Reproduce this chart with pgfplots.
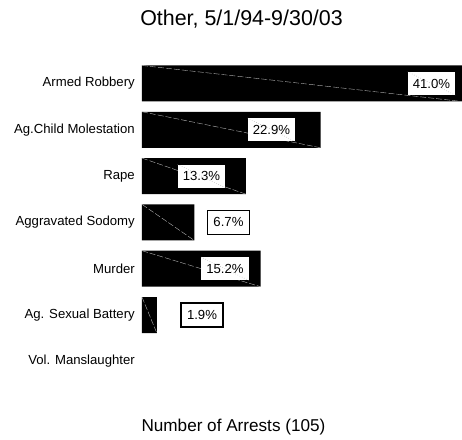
\documentclass[border=0pt]{standalone}
\usepackage{pgfplots}
\pgfplotsset{compat=1.18}
\usepackage{fontspec}
\setmainfont{Liberation Sans}
\begin{document}
\begin{tikzpicture}
\begin{axis}[
  scale only axis, width=320bp, height=439bp,
  xmin=0, xmax=41, ymin=-1.678, ymax=7.803,
  clip=false,
  axis line style={draw=none}, major tick length=0pt,
  xtick=\empty, ytick={0,1,2,3,4,5,6},
  yticklabels={Vol. Manslaughter, Ag. Sexual Battery, Murder, Aggravated Sodomy, Rape, Ag.Child Molestation, Armed Robbery},
  yticklabel style={font=\fontsize{13.2}{15}\selectfont, inner sep=0pt, xshift=-7bp},
]
\addplot[xbar, fill=black, draw=none, bar width=36bp] coordinates {
 (1.9,1) (15.2,2) (6.7,3) (13.3,4) (22.9,5) (41.0,6)};
% faint diagonals across bars
\draw[gray!60, dash pattern=on 6bp off 2bp, line width=0.4bp] (axis cs:0,6.389) -- (axis cs:41.0,5.611);
\draw[gray!60, dash pattern=on 6bp off 2bp, line width=0.4bp] (axis cs:0,5.389) -- (axis cs:22.9,4.611);
\draw[gray!60, dash pattern=on 6bp off 2bp, line width=0.4bp] (axis cs:0,4.389) -- (axis cs:13.3,3.611);
\draw[gray!60, dash pattern=on 6bp off 2bp, line width=0.4bp] (axis cs:0,3.389) -- (axis cs:6.7,2.611);
\draw[gray!60, dash pattern=on 6bp off 2bp, line width=0.4bp] (axis cs:0,2.389) -- (axis cs:15.2,1.611);
\draw[gray!60, dash pattern=on 6bp off 2bp, line width=0.4bp] (axis cs:0,1.389) -- (axis cs:1.9,0.611);
% value labels
\tikzset{inlab/.style={fill=white, inner xsep=5bp, inner ysep=0pt, minimum height=23bp, font=\fontsize{13.2}{15}\selectfont},
         outlab/.style={draw=black, line width=1.5bp, fill=white, inner xsep=6bp, inner ysep=0pt, minimum height=24bp, font=\fontsize{13.2}{15}\selectfont}}
\node[inlab] (p1) at (axis cs:37.09,6) {41.0\%};
\draw[gray, dotted, line width=0.4bp] (p1.north west) -- (p1.south east);
\node[inlab] (p2) at (axis cs:16.59,5) {22.9\%};
\draw[gray, dotted, line width=0.4bp] (p2.north west) -- (p2.south east);
\node[inlab] (p3) at (axis cs:7.62,4) {13.3\%};
\draw[gray, dotted, line width=0.4bp] (p3.north west) -- (p3.south east);
\node[outlab] at (axis cs:11.08,3) {6.7\%};
\node[inlab] (p5) at (axis cs:10.63,2) {15.2\%};
\draw[gray, dotted, line width=0.4bp] (p5.north west) -- (p5.south east);
\node[outlab] at (axis cs:7.69,1) {1.9\%};
% title and axis label
\node[font=\fontsize{21.5}{25}\selectfont] at (axis cs:12.75,7.40) {Other, 5/1/94-9/30/03};
\node[font=\fontsize{17.2}{20}\selectfont] at (axis cs:11.72,-1.419) {Number of Arrests (105)};
\coordinate (bbl) at (axis cs:-18.19,-1.678);
\coordinate (bbr) at (axis cs:41,7.803);
\end{axis}
\pgfresetboundingbox
\useasboundingbox (bbl) rectangle (bbr);
\end{tikzpicture}
\end{document}
